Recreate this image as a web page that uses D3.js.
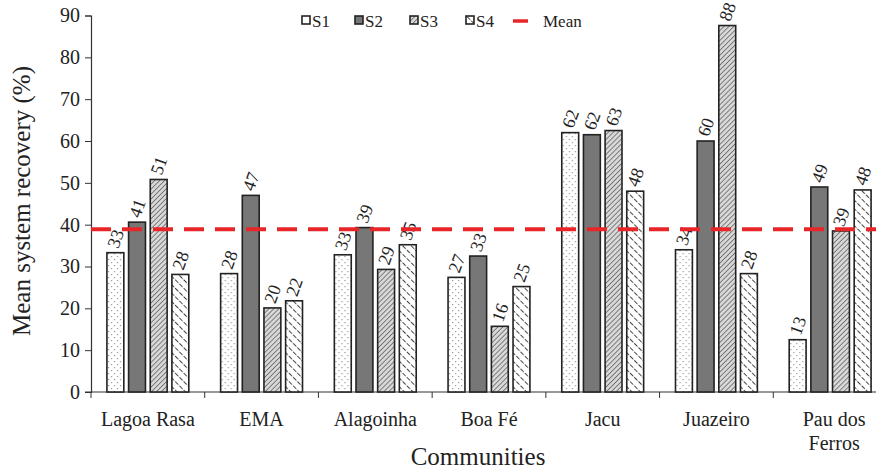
<!DOCTYPE html>
<html><head><meta charset="utf-8">
<script src="https://cdn.jsdelivr.net/npm/d3@7"></script>
<style>
body{margin:0;background:#fff;}
svg text{font-family:"Liberation Serif","DejaVu Serif",serif !important;fill:#222;}
</style></head>
<body><svg id="c" width="876" height="470" font-family="Liberation Serif"></svg>
<script>
const categories = ["Lagoa Rasa","EMA","Alagoinha","Boa Fé","Jacu","Juazeiro","Pau dos Ferros"];
const seriesNames = ["S1","S2","S3","S4"];
const s1 = [33.3, 28.3, 32.8, 27.4, 62.0, 34.0, 12.5];
const s2 = [40.6, 47.0, 39.3, 32.5, 61.5, 60.0, 49.0];
const s3 = [50.8, 20.1, 29.3, 15.7, 62.5, 87.6, 38.5];
const s4 = [28.1, 21.8, 35.2, 25.2, 48.0, 28.3, 48.3];
const labels1 = ["33","28","33","27","62","34","13"];
const labels2 = ["41","47","39","33","62","60","49"];
const labels3 = ["51","20","29","16","63","88","39"];
const labels4 = ["28","22","35","25","48","28","48"];
const meanValue = 38.9;
const yTicks = [0,10,20,30,40,50,60,70,80,90];

const seriesVals = [s1,s2,s3,s4];
const seriesLabels = [labels1,labels2,labels3,labels4];
const FONT = "'Liberation Serif','DejaVu Serif',serif";

const svg = d3.select("#c");
const defs = svg.append("defs");
const p1 = defs.append("pattern").attr("id","pS1").attr("patternUnits","userSpaceOnUse").attr("width",6).attr("height",6);
p1.append("rect").attr("width",6).attr("height",6).attr("fill","#fff");
p1.append("rect").attr("x",1).attr("y",1).attr("width",1.2).attr("height",1.2).attr("fill","#999");
p1.append("rect").attr("x",4).attr("y",4).attr("width",1.2).attr("height",1.2).attr("fill","#999");
const p3 = defs.append("pattern").attr("id","pS3").attr("patternUnits","userSpaceOnUse").attr("width",3.5).attr("height",3.5).attr("patternTransform","rotate(45)");
p3.append("rect").attr("width",3.5).attr("height",3.5).attr("fill","#d8d8d8");
p3.append("line").attr("x1",0).attr("y1",0).attr("x2",0).attr("y2",3.5).attr("stroke","#555").attr("stroke-width",1.4);
const p4 = defs.append("pattern").attr("id","pS4").attr("patternUnits","userSpaceOnUse").attr("width",6).attr("height",6).attr("patternTransform","rotate(-45)");
p4.append("rect").attr("width",6).attr("height",6).attr("fill","#fff");
p4.append("line").attr("x1",0).attr("y1",0).attr("x2",0).attr("y2",4.5).attr("stroke","#444").attr("stroke-width",2);
const fills = ["url(#pS1)","#777","url(#pS3)","url(#pS4)"];

const x0 = d3.scaleBand().domain(categories).range([91, 887]).paddingInner(0.28).paddingOuter(0.14);
const x1 = d3.scaleBand().domain(seriesNames).range([0, x0.bandwidth()]).paddingInner(0.22);
const y = d3.scaleLinear().domain([0,90]).range([392, 15.5]);

const yAxis = svg.append("g").attr("transform","translate(91,0)")
  .call(d3.axisLeft(y).tickValues(yTicks).tickSize(6).tickPadding(5));
yAxis.attr("font-family",FONT);
yAxis.select(".domain").attr("stroke","#333").attr("stroke-width",1.2);
yAxis.selectAll(".tick line").attr("stroke","#333");
yAxis.selectAll("text").style("font-size","20px").style("font-family",FONT).attr("fill","#222");

const xTickScale = d3.scaleLinear().domain([0,7]).range([91,887]);
const xg = svg.append("g");
xg.append("line").attr("x1",85).attr("x2",887).attr("y1",y(0)).attr("y2",y(0)).attr("stroke","#333").attr("stroke-width",1.2);
xg.selectAll("line.t").data(d3.range(0,8)).enter().append("line").attr("class","t")
  .attr("x1",d=>xTickScale(d)).attr("x2",d=>xTickScale(d)).attr("y1",y(0)).attr("y2",y(0)+6).attr("stroke","#333");

const groups = svg.append("g").selectAll("g").data(categories).enter().append("g")
  .attr("transform",d=>`translate(${x0(d)},0)`);
seriesNames.forEach((s,si)=>{
  groups.append("rect")
    .attr("x",x1(s)).attr("width",x1.bandwidth())
    .attr("y",(d,ci)=>y(seriesVals[si][ci]))
    .attr("height",(d,ci)=>y(0)-y(seriesVals[si][ci]))
    .attr("fill",fills[si]).attr("stroke","#222").attr("stroke-width",1.6);
});
svg.append("line").attr("x1",91).attr("x2",876).attr("y1",y(meanValue)).attr("y2",y(meanValue))
  .attr("stroke","#e8262a").attr("stroke-width",4).attr("stroke-dasharray","20,11");
seriesNames.forEach((s,si)=>{
  groups.append("text")
    .attr("transform",(d,ci)=>`translate(${x1(s)+x1.bandwidth()/2},${y(seriesVals[si][ci])-14}) rotate(-70)`)
    .attr("dy","0.35em").attr("text-anchor","middle")
    .style("font-size","18px").style("font-family",FONT)
    .text((d,ci)=>seriesLabels[si][ci]);
});

categories.forEach((c,i)=>{
  const cx = x0(c)+x0.bandwidth()/2;
  if(c==="Pau dos Ferros"){
    svg.append("text").attr("x",cx+4).attr("y",426).attr("text-anchor","middle").style("font-size","20px").style("font-family",FONT).text("Pau dos");
    svg.append("text").attr("x",cx+4).attr("y",450).attr("text-anchor","middle").style("font-size","20px").style("font-family",FONT).text("Ferros");
  } else {
    svg.append("text").attr("x",cx).attr("y",426).attr("text-anchor","middle").style("font-size","20px").style("font-family",FONT).text(c);
  }
});

svg.append("text").attr("transform","translate(30,201) rotate(-90)").attr("text-anchor","middle").style("font-size","25px").style("font-family",FONT).text("Mean system recovery (%)");
svg.append("text").attr("x",478).attr("y",465).attr("text-anchor","middle").style("font-size","25px").style("font-family",FONT).text("Communities");

const legendItems = [{n:"S1",x:302},{n:"S2",x:355},{n:"S3",x:410},{n:"S4",x:466}];
const legendFills = ["#fff","#777","url(#pS3)","url(#pS4)"];
legendItems.forEach((it,i)=>{
  svg.append("rect").attr("x",it.x).attr("y",16).attr("width",8).attr("height",8)
    .attr("fill",legendFills[i]).attr("stroke","#222").attr("stroke-width",1.6);
  svg.append("text").attr("x",it.x+10).attr("y",27).style("font-size","17px").style("font-family",FONT).text(it.n);
});
svg.append("line").attr("x1",513).attr("x2",528).attr("y1",21).attr("y2",21).attr("stroke","#e8262a").attr("stroke-width",3.5);
svg.append("text").attr("x",543).attr("y",27).style("font-size","17px").style("font-family",FONT).text("Mean");
</script></body></html>
